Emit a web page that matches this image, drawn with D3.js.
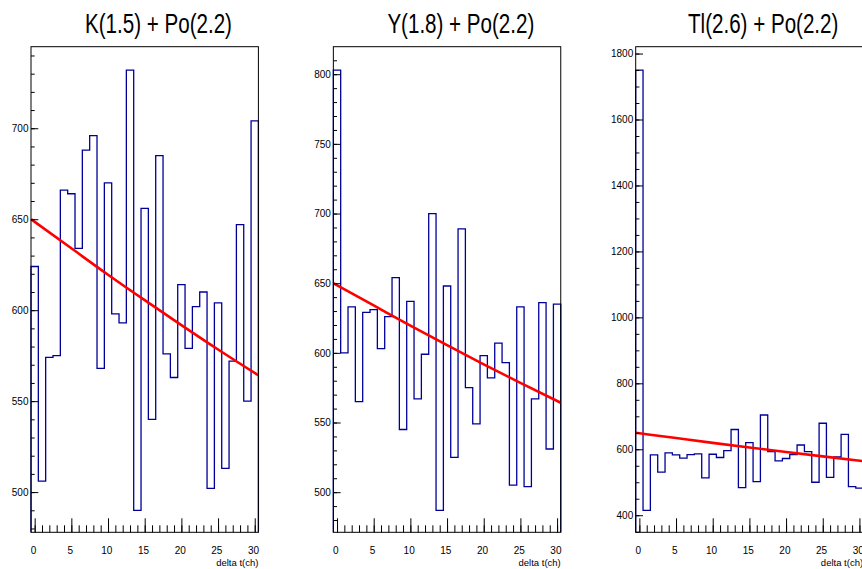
<!DOCTYPE html>
<html>
<head>
<meta charset="utf-8">
<script src="https://cdn.jsdelivr.net/npm/d3@7"></script>
<style>
  html, body { margin: 0; padding: 0; background: #fff; }
  svg { display: block; }
  text { font-family: "Liberation Sans", Arial, Helvetica, sans-serif; }
</style>
</head>
<body>
<script>
// ---------------- data ----------------
const titles = ["K(1.5) + Po(2.2)", "Y(1.8) + Po(2.2)", "Tl(2.6) + Po(2.2)"];
const xAxisTitle = "delta t(ch)";

// bin centres 0..30 (bin width 1)
const bins = d3.range(0, 31);

const kCounts = [624, 506, 574, 575, 666, 664, 634, 688, 696, 568, 670,
                 598, 593, 732, 490, 656, 540, 685, 576, 563, 614, 579,
                 602, 610, 502, 604, 513, 572, 647, 550, 704];
const yCounts = [803, 600, 633, 565, 629, 631, 603, 626, 654, 545, 637,
                 567, 599, 700, 487, 648, 525, 689, 575, 549, 598, 582,
                 607, 593, 505, 633, 504, 567, 636, 531, 635];
const tlCounts = [1750, 415, 583, 531, 589, 583, 573, 584, 586, 513, 585,
                  575, 596, 660, 484, 620, 502, 704, 593, 565, 572, 584,
                  613, 593, 500, 679, 515, 577, 645, 487, 482];

// fitted curve at a few abscissae
const fitX = [-0.5, 5, 10, 15, 20, 25, 30.5];
const fitY = [650, 634, 619.5, 605.5, 591.8, 578.4, 564.2];

// tick values
const xMajorTicks = [0, 5, 10, 15, 20, 25, 30];
const xMinorTicks = d3.range(0, 31);
const kYTicks = [500, 550, 600, 650, 700];
const yYTicks = [500, 550, 600, 650, 700, 750, 800];
const tlYTicks = [400, 600, 800, 1000, 1200, 1400, 1600, 1800];
const yMinorSteps = [10, 10, 50];

// ---------------- drawing ----------------
const W = 862, H = 569;
const svg = d3.select("body").append("svg")
  .attr("width", W).attr("height", H)
  .attr("viewBox", `0 0 ${W} ${H}`);

const panels = [
  { title: titles[0], counts: kCounts, yTicks: kYTicks, minor: yMinorSteps[0] },
  { title: titles[1], counts: yCounts, yTicks: yYTicks, minor: yMinorSteps[1] },
  { title: titles[2], counts: tlCounts, yTicks: tlYTicks, minor: yMinorSteps[2] }
];

const padStep = 302.35;
const frameW = 227.4;
const frameTop = 46.7, frameBottom = 532.3;

panels.forEach((p, i) => {
  const left = 31 + padStep * i;
  const right = left + frameW;
  const g = svg.append("g");

  const x = d3.scaleLinear().domain([-0.5, 30.5]).range([left, right]);
  const mn = d3.min(p.counts), mx = d3.max(p.counts);
  const span = mx - mn;
  const y = d3.scaleLinear().domain([mn - 0.05 * span, mx + 0.053 * span]).range([frameBottom, frameTop]);
  const yLo = y.domain()[0];

  // histogram outline
  const verts = [[-0.5, yLo]];
  bins.forEach((b, k) => {
    verts.push([b - 0.5, p.counts[k]]);
    verts.push([b + 0.5, p.counts[k]]);
  });
  verts.push([30.5, yLo]);
  const histLine = d3.line().x(d => x(d[0])).y(d => y(d[1]));
  g.append("path")
    .attr("d", histLine(verts))
    .attr("fill", "none")
    .attr("stroke", "#000099")
    .attr("stroke-width", 1.3);

  // fit curve
  const fitLine = d3.line().x(d => x(d[0])).y(d => y(d[1])).curve(d3.curveMonotoneX);
  g.append("path")
    .attr("d", fitLine(fitX.map((v, k) => [v, fitY[k]])))
    .attr("fill", "none")
    .attr("stroke", "#ff0000")
    .attr("stroke-width", 2.6);

  // frame
  g.append("rect")
    .attr("x", left).attr("y", frameTop)
    .attr("width", right - left).attr("height", frameBottom - frameTop)
    .attr("fill", "none").attr("stroke", "#000").attr("stroke-width", 1);

  // x axis minor + major
  g.append("g").attr("transform", `translate(0,${frameBottom})`)
    .call(d3.axisBottom(x).tickValues(xMinorTicks).tickFormat("").tickSizeInner(-7).tickSizeOuter(0))
    .call(a => a.select(".domain").remove());
  const xa = g.append("g").attr("transform", `translate(0,${frameBottom})`)
    .call(d3.axisBottom(x).tickValues(xMajorTicks).tickFormat(d3.format("d"))
      .tickSizeInner(-14).tickSizeOuter(0).tickPadding(14.5))
    .call(a => a.select(".domain").remove());
  xa.selectAll("text").attr("x", -1.7)
    .style("font-family", '"Liberation Sans", Arial, sans-serif')
    .style("font-size", "10px").attr("fill", "#000");

  // y axis minor + major
  const yMinorTicks = d3.range(Math.ceil(y.domain()[0] / p.minor) * p.minor, y.domain()[1], p.minor);
  g.append("g").attr("transform", `translate(${left},0)`)
    .call(d3.axisLeft(y).tickValues(yMinorTicks).tickFormat("").tickSizeInner(-3.7).tickSizeOuter(0))
    .call(a => a.select(".domain").remove());
  const ya = g.append("g").attr("transform", `translate(${left},0)`)
    .call(d3.axisLeft(y).tickValues(p.yTicks).tickFormat(d3.format("d"))
      .tickSizeInner(-7.3).tickSizeOuter(0).tickPadding(2.5))
    .call(a => a.select(".domain").remove());
  ya.selectAll("text")
    .style("font-family", '"Liberation Sans", Arial, sans-serif')
    .style("font-size", "10px").attr("fill", "#000");

  // x axis title
  g.append("text")
    .attr("x", right).attr("y", 566)
    .attr("text-anchor", "end")
    .style("font-size", "9.5px")
    .attr("fill", "#000")
    .text(xAxisTitle);

  // panel title (condensed Helvetica look)
  g.append("text")
    .attr("transform", `translate(${left + 127.5},32.5) scale(0.735,1)`)
    .attr("text-anchor", "middle")
    .style("font-size", "28px")
    .attr("fill", "#000")
    .text(p.title);
});
</script>
</body>
</html>
